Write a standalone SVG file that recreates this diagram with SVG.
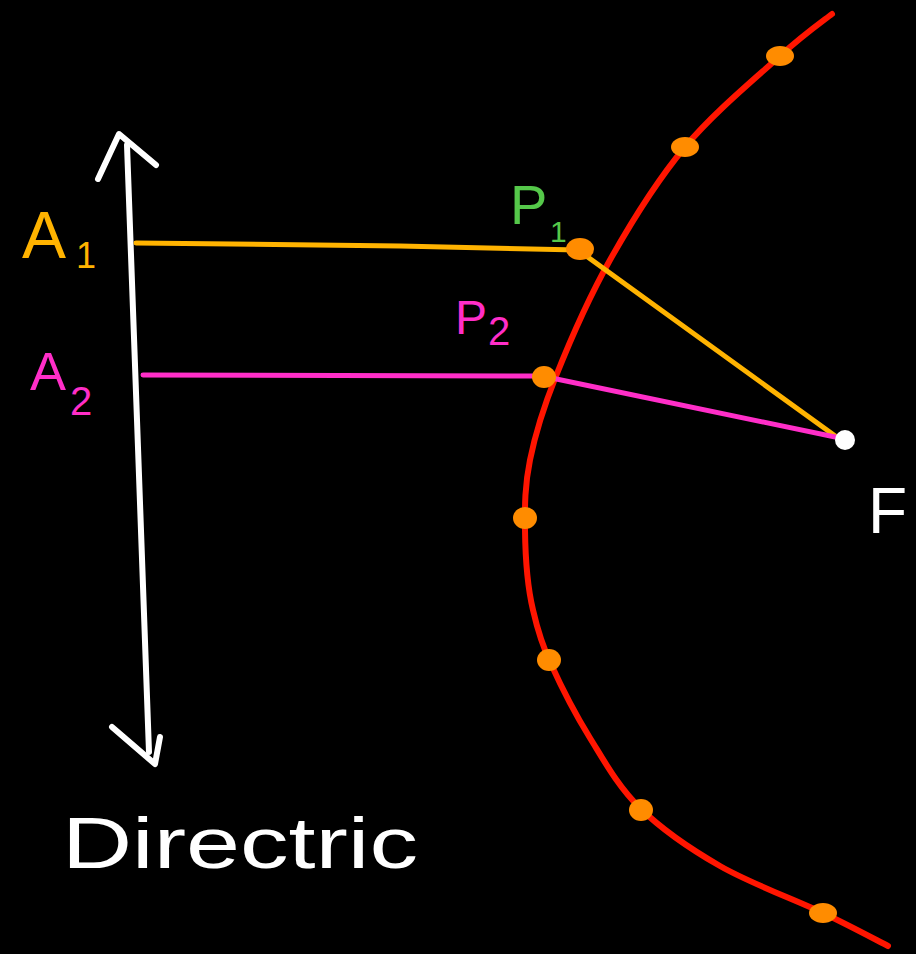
<svg xmlns="http://www.w3.org/2000/svg" width="916" height="954" viewBox="0 0 916 954">
<style>
.lbl{font-family:"Liberation Sans","Noto Sans",sans-serif;}
.dot{fill:#FF8C00;}
.ln{fill:none;stroke-linecap:round;stroke-linejoin:round;}
</style>
<rect x="0" y="0" width="916" height="954" fill="#000"/>
<g id="directrix">
<path class="ln" d="M127,145 L137,420 L149,752" stroke="#fff" stroke-width="6"/>
<path class="ln" d="M98,179 L119,134 L156,165" stroke="#fff" stroke-width="6"/>
<path class="ln" d="M112,727 L155,764 L160,737" stroke="#fff" stroke-width="6"/>
<text class="lbl" x="62" y="868" font-size="72" fill="#fff" textLength="356" lengthAdjust="spacingAndGlyphs">Directric</text>
</g>
<g id="parabola">
<path class="ln" stroke="#FF1500" stroke-width="6" d="M832,14 C823,21 804.5,33.8 780,56 C755.5,78.2 713.3,113 685,147 C656.7,181 631.5,221.8 610,260 C588.5,298.2 569.3,342.7 556,376 C542.7,409.3 535.2,434.3 530,460 C524.8,485.7 524.7,505 525,530 C525.3,555 527,585 533,610 C538,632 542,645 551,664 C560,684 575,713.7 590,738 C605,762.3 618.3,786.7 640,808 C661.7,829.3 689.5,848.5 720,866 C750.5,883.5 795,899.7 823,913 C851,926.3 877.2,940.5 888,946"/>
</g>
<g id="connectors">
<path class="ln" d="M136,243 L400,246 L578,250 L838,438" stroke="#FFB300" stroke-width="5"/>
<path class="ln" d="M143,375 L542,376 L840,438" stroke="#FF2EC8" stroke-width="5"/>
</g>
<g id="curve-points">
<ellipse class="dot" cx="780" cy="56" rx="14" ry="10"/>
<ellipse class="dot" cx="685" cy="147" rx="14" ry="10"/>
<ellipse class="dot" cx="525" cy="518" rx="12" ry="11"/>
<ellipse class="dot" cx="549" cy="660" rx="12" ry="11"/>
<ellipse class="dot" cx="641" cy="810" rx="12" ry="11"/>
<ellipse class="dot" cx="823" cy="913" rx="14" ry="10"/>
</g>
<g id="P1">
<ellipse class="dot" cx="580" cy="249" rx="14" ry="11"/>
<text class="lbl" x="510" y="224" font-size="56" fill="#55C84A">P</text>
<text class="lbl" x="550" y="242" font-size="30" fill="#55C84A">1</text>
</g>
<g id="P2">
<ellipse class="dot" cx="544" cy="377" rx="12" ry="11"/>
<text class="lbl" x="455" y="334" font-size="48" fill="#FF2EC8">P</text>
<text class="lbl" x="488" y="345" font-size="40" fill="#FF2EC8">2</text>
</g>
<g id="A1">
<text class="lbl" x="22" y="258" font-size="66" fill="#FFB300">A</text>
<text class="lbl" x="76" y="268" font-size="36" fill="#FFB300">1</text>
</g>
<g id="A2">
<text class="lbl" x="30" y="390" font-size="54" fill="#FF2EC8">A</text>
<text class="lbl" x="70" y="415" font-size="40" fill="#FF2EC8">2</text>
</g>
<g id="F">
<circle cx="845" cy="440" r="10" fill="#fff"/>
<text class="lbl" x="868" y="533" font-size="64" fill="#fff">F</text>
</g>
</svg>
